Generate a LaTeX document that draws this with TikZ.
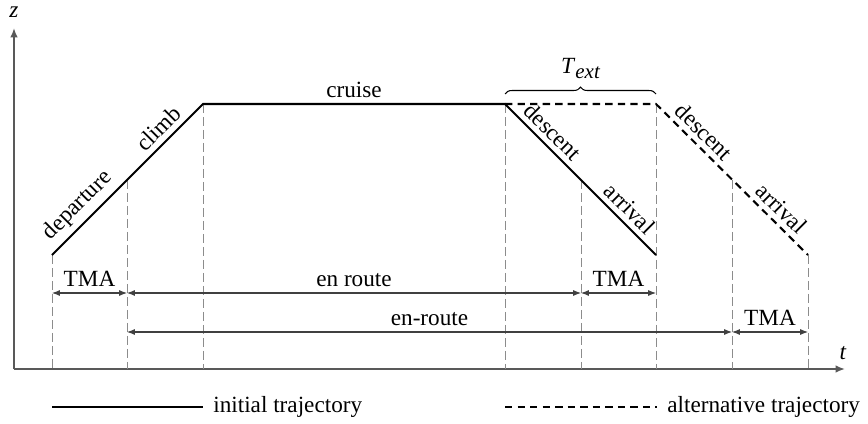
\documentclass[tikz,border=0pt]{standalone}
\usepackage{fontspec}
\setmainfont{Liberation Serif}
\usetikzlibrary{arrows.meta,decorations.pathreplacing}
\begin{document}
\begin{tikzpicture}[x=0.431pt,y=-0.431pt,
  axis/.style={draw=black!65, line width=0.7pt, -{Latex[length=4pt,width=3.2pt]}},
  guide/.style={draw=black!45, line width=0.4pt, dash pattern=on 4pt off 1.6pt},
  traj/.style={line width=0.9pt},
  alttraj/.style={traj, dash pattern=on 3.2pt off 2.2pt},
  span/.style={draw=black!75, line width=0.45pt,
    {Latex[length=3.4pt,width=2.6pt]}-{Latex[length=3.4pt,width=2.6pt]}},
  lbl/.style={inner sep=2.5pt}]
\useasboundingbox (0,0) rectangle (868,424);

% axes
\coordinate (O) at (14,369);
\coordinate (ztop) at (14,28);
\coordinate (tend) at (845,369);
\draw[axis] (O) -- (ztop);
\draw[axis] (O) -- (tend);
\node (zlab) at (14,12) {\textit{z}};
\node (tlab) at (843,353) {\textit{t}};

% trajectory break points
\coordinate (p0) at (52,255);
\coordinate (p1) at (203,104);
\coordinate (p2) at (505,104);
\coordinate (p3) at (656,255);
\coordinate (q2) at (656,104);
\coordinate (q3) at (808,255);
\coordinate (c1) at (127,180);
\coordinate (c2) at (581,180);
\coordinate (c3) at (732,180);

% vertical guides down to the time axis
\foreach \n in {p0,c1,p1,p2,c2,q2,c3,q3}
  \draw[guide] (\n) -- (\n |- O);

% initial trajectory
\draw[traj] (p0) -- (p1) -- (p2) -- (p3);
\path (p0) -- (p1)
  node[lbl, pos=0.25, sloped, above] (dep) {departure}
  node[lbl, pos=0.77, sloped, above] (clb) {climb};
\path (p1) -- (p2) node[lbl, midway, above] (cru) {cruise};
\path (p2) -- (p3)
  node[lbl, pos=0.25, sloped, above] (des1) {descent}
  node[lbl, pos=0.76, sloped, above] (arr1) {arrival};

% alternative trajectory
\draw[alttraj] (p2) -- (q2) -- (q3);
\path (q2) -- (q3)
  node[lbl, pos=0.25, sloped, above] (des2) {descent}
  node[lbl, pos=0.76, sloped, above] (arr2) {arrival};

% extension brace
\coordinate (bl) at (505,94);
\coordinate (br) at (656,94);
\draw[decorate, decoration={brace, amplitude=3pt}, line width=0.45pt] (bl) -- (br)
  node[midway, above=3pt] (text)
  {\textit{T}\raisebox{-2pt}{\fontsize{9}{10}\selectfont\itshape ext}};

% phase spans, first row
\coordinate (a0) at (52,293);
\coordinate (a1) at (127,293);
\coordinate (a2) at (581,293);
\coordinate (a3) at (656,293);
\draw[span] (a0) -- (a1) node[lbl, midway, above] (tma1) {TMA};
\draw[span] (a1) -- (a2) node[lbl, midway, above] (er1) {en route};
\draw[span] (a2) -- (a3) node[lbl, midway, above] (tma2) {TMA};

% phase spans, second row
\coordinate (b1) at (127,332);
\coordinate (b2) at (732,332);
\coordinate (b3) at (808,332);
\draw[span] (b1) -- (b2) node[lbl, midway, above] (er2) {en-route};
\draw[span] (b2) -- (b3) node[lbl, midway, above] (tma3) {TMA};

% legend
\coordinate (l0) at (52,407);
\coordinate (l1) at (203,407);
\coordinate (m0) at (505,407);
\coordinate (m1) at (657,407);
\draw[traj] (l0) -- (l1) node[right, inner sep=4pt] (leg1) {initial trajectory};
\draw[alttraj] (m0) -- (m1) node[right, inner sep=4pt] (leg2) {alternative trajectory};
\end{tikzpicture}
\end{document}
